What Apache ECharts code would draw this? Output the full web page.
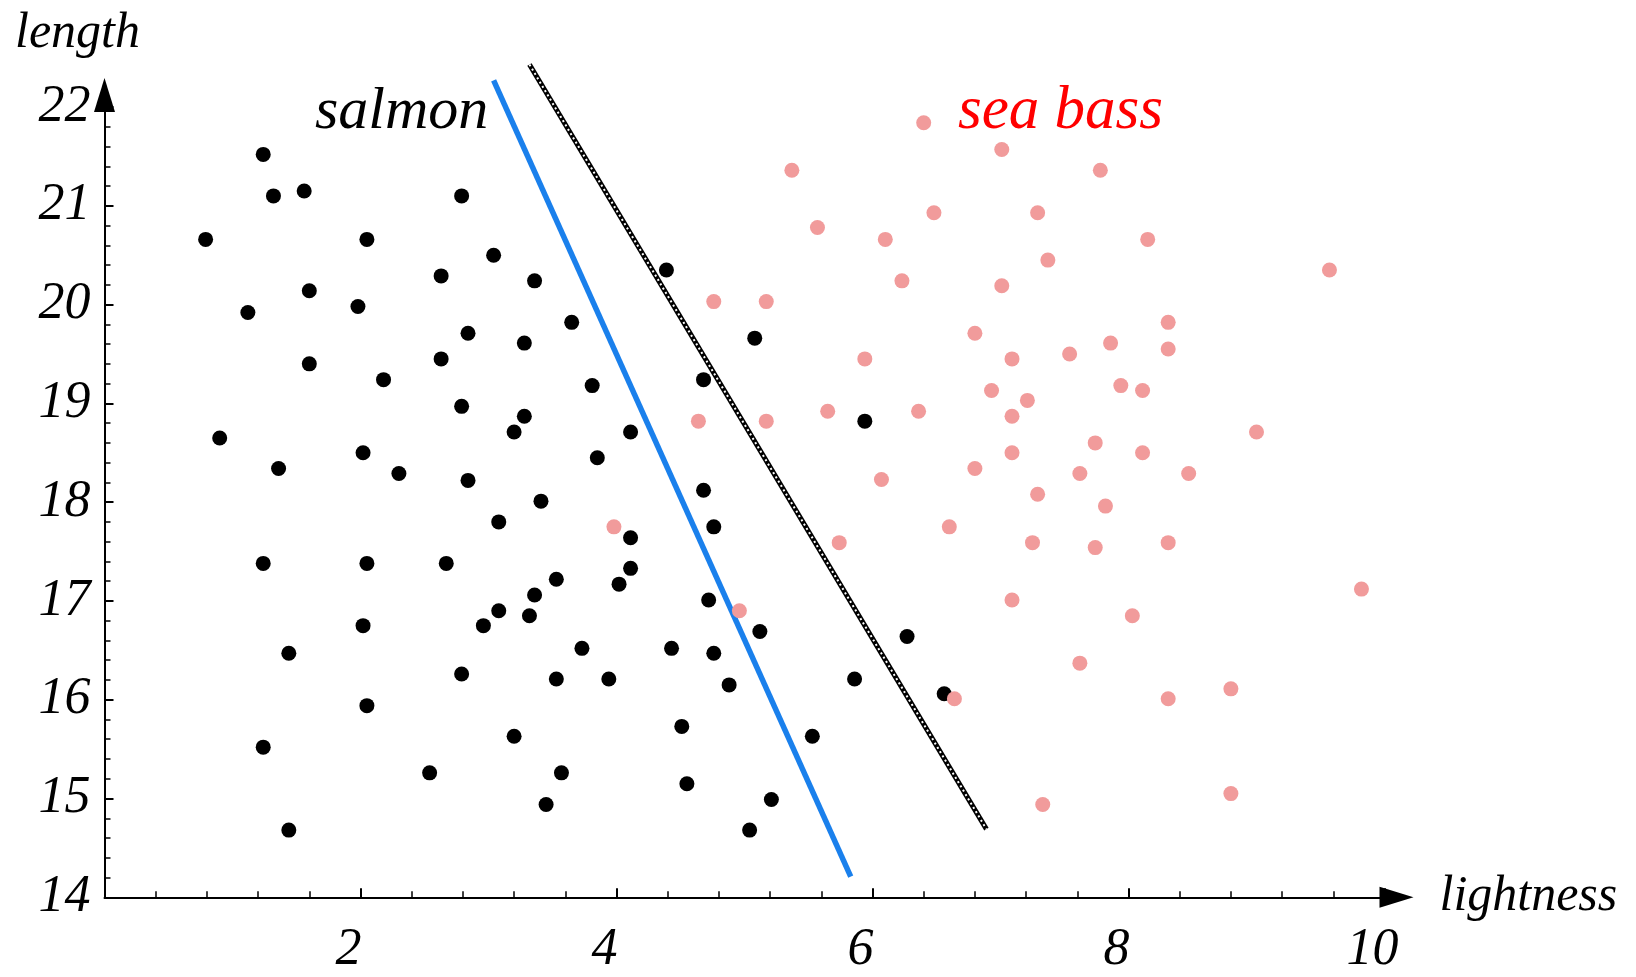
<!DOCTYPE html>
<html><head><meta charset="utf-8">
<script src="https://cdn.jsdelivr.net/npm/echarts@6/dist/echarts.min.js"></script>
<style>html,body{margin:0;padding:0;background:#fff}#c{width:1636px;height:977px}</style>
</head><body><div id="c"></div>
<script>
// salmon (black) points
const salmonX = [1.24,1.32,1.56,0.79,2.05,2.79,3.04,2.63,3.36,1.60,1.12,1.98,2.84,3.28,3.65,4.39,5.08,1.60,2.63,2.18,3.81,2.79,3.28,3.20,4.11,0.90,4.68,5.94,2.02,3.85,1.36,2.30,2.84,3.41,4.68,3.08,4.76,4.11,1.24,2.05,2.67,4.11,3.53,4.02,3.36,4.72,3.08,3.32,2.96,2.02,5.12,6.27,1.44,3.73,4.43,4.76,2.79,3.53,3.94,4.88,5.86,6.56,2.05,4.51,1.24,3.20,5.53,2.54,3.57,4.55,5.21,3.45,1.44,5.04];
const salmonY = [21.52,21.10,21.15,20.66,20.66,21.10,20.50,20.29,20.24,20.14,19.92,19.98,19.71,19.61,19.82,20.35,19.66,19.40,19.45,19.24,19.18,18.97,18.87,18.71,18.71,18.65,19.24,18.82,18.50,18.45,18.34,18.29,18.22,18.01,18.12,17.80,17.75,17.64,17.38,17.38,17.38,17.33,17.22,17.17,17.06,17.01,16.90,16.85,16.75,16.75,16.69,16.64,16.47,16.52,16.52,16.47,16.26,16.21,16.21,16.15,16.21,16.06,15.94,15.73,15.52,15.63,15.63,15.26,15.26,15.15,14.99,14.94,14.68,14.68];
// sea bass (pink) points
const seaBassX = [6.40,5.37,7.01,7.78,5.57,6.10,6.48,7.29,8.15,7.37,6.23,7.01,9.57,4.76,5.17,6.80,8.31,7.86,8.31,5.94,7.09,7.54,6.93,7.21,7.94,8.11,4.64,5.17,5.65,6.36,7.09,9.00,7.74,7.09,8.11,6.80,6.07,7.62,8.47,7.29,7.82,3.98,5.74,6.60,7.25,7.74,8.31,7.09,9.82,4.96,8.03,7.62,6.64,8.31,8.80,7.33,8.80];
const seaBassY = [21.84,21.36,21.57,21.36,20.78,20.66,20.93,20.93,20.66,20.45,20.24,20.19,20.35,20.03,20.03,19.71,19.82,19.61,19.55,19.45,19.45,19.50,19.13,19.03,19.18,19.13,18.82,18.82,18.92,18.92,18.87,18.71,18.60,18.50,18.50,18.34,18.23,18.29,18.29,18.08,17.96,17.75,17.59,17.75,17.59,17.54,17.59,17.01,17.12,16.90,16.85,16.37,16.01,16.01,16.11,14.94,15.05];
// decision boundaries
const blueLineX = [3.04, 5.83];
const blueLineY = [22.27, 14.21];
const blackLineX = [3.32, 6.89];
const blackLineY = [22.43, 14.69];
// tick labels
const xTickLabels = [2, 4, 6, 8, 10];
const yTickLabels = [14, 15, 16, 17, 18, 19, 20, 21, 22];

const zip = (xs, ys) => xs.map((x, i) => [x, ys[i]]);
const serif = "'Liberation Serif','DejaVu Serif',serif";

const chart = echarts.init(document.getElementById('c'), null, {renderer: 'canvas'});
const axisCommon = {
  type: 'value',
  splitLine: {show: false},
  axisLine: {show: true, onZero: false, lineStyle: {color: '#000', width: 2},
    symbol: ['none', 'triangle'], symbolSize: [21, 34], symbolOffset: [0, 12]},
  axisTick: {show: true, inside: true, length: 9, lineStyle: {color: '#000', width: 2}},
  minorTick: {show: true, splitNumber: 5, length: 6, lineStyle: {color: '#000', width: 1.5}},
  nameTextStyle: {fontFamily: serif, fontStyle: 'italic', fontSize: 50, color: '#000'}
};
chart.setOption({
  animation: false,
  backgroundColor: '#fff',
  grid: {left: 104.5, right: 251.5, top: 107, bottom: 79.7, containLabel: false, outerBoundsMode: 'none'},
  xAxis: Object.assign({}, axisCommon, {
    min: 0, max: 10, interval: 2,
    name: 'lightness', nameLocation: 'end', nameGap: 55,
    axisLabel: {margin: 27, fontFamily: serif, fontStyle: 'italic', fontSize: 52, color: '#000',
      padding: [0, 24, 0, 0],
      formatter: v => xTickLabels.includes(v) ? String(v) : ''}
  }),
  yAxis: Object.assign({}, axisCommon, {
    min: 14, max: 22, interval: 1,
    name: 'length', nameLocation: 'end', nameGap: 48,
    nameTextStyle: Object.assign({}, axisCommon.nameTextStyle, {padding: [0, 54, 0, 0]}),
    axisLabel: {margin: 14, fontFamily: serif, fontStyle: 'italic', fontSize: 52, color: '#000',
      formatter: v => yTickLabels.includes(v) ? String(v) : ''}
  }),
  graphic: [
    {type: 'text', left: 315, top: 82, z: 10,
      style: {text: 'salmon', font: "italic 60px 'Liberation Serif','DejaVu Serif',serif", fill: '#000'}},
    {type: 'text', left: 958, top: 81, z: 10,
      style: {text: 'sea bass', font: "italic 61px 'Liberation Serif','DejaVu Serif',serif", fill: '#ff0000'}}
  ],
  series: [
    {type: 'line', data: zip(blueLineX, blueLineY), showSymbol: false, clip: false, z: 1,
      lineStyle: {color: '#1a80ec', width: 5.5}},
    {type: 'line', data: zip(blackLineX, blackLineY), showSymbol: false, clip: false, z: 1,
      lineStyle: {color: '#000', width: 5}},
    {type: 'line', data: zip(blackLineX, blackLineY), showSymbol: false, clip: false, z: 1,
      lineStyle: {color: '#fff', width: 2, type: [2, 3]}},
    {type: 'scatter', data: zip(salmonX, salmonY), symbol: 'circle', symbolSize: 15, clip: false, z: 3,
      itemStyle: {color: '#000', opacity: 1}},
    {type: 'scatter', data: zip(seaBassX, seaBassY), symbol: 'circle', symbolSize: 15, clip: false, z: 3,
      itemStyle: {color: '#f19b9b', opacity: 1}}
  ]
});
</script></body></html>
